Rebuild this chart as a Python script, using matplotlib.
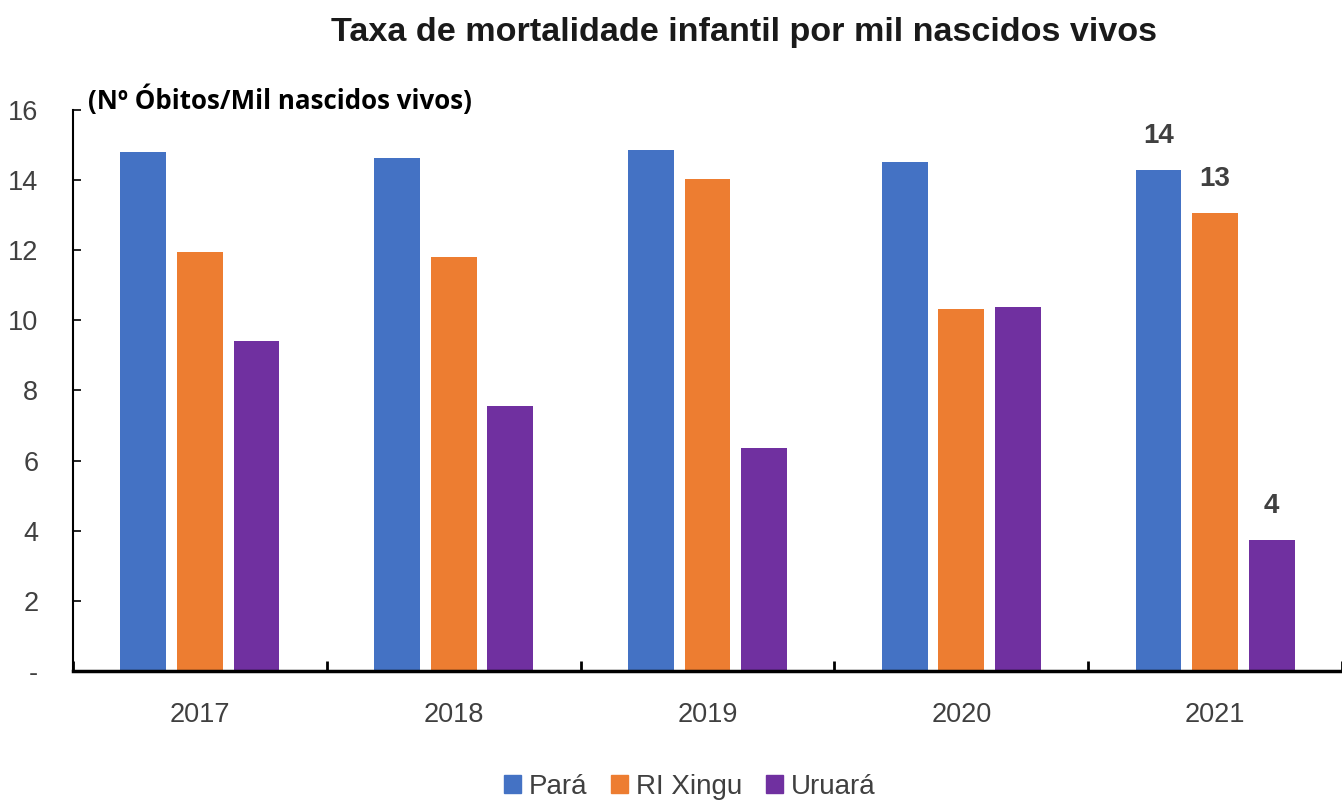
import matplotlib
matplotlib.use("Agg")
import matplotlib.pyplot as plt
from matplotlib.patches import Patch
import numpy as np

years = ["2017", "2018", "2019", "2020", "2021"]
series_names = ["Pará", "RI Xingu", "Uruará"]
para = [14.80, 14.63, 14.86, 14.52, 14.29]
ri_xingu = [11.95, 11.81, 14.03, 10.33, 13.06]
uruara = [9.41, 7.56, 6.36, 10.38, 3.74]
ytick_values = [0, 2, 4, 6, 8, 10, 12, 14, 16]
ytick_labels = ["-", "2", "4", "6", "8", "10", "12", "14", "16"]
label_2021 = ["14", "13", "4"]

colors = ["#4472C4", "#ED7D31", "#7030A0"]
narrow = ["Liberation Sans", "DejaVu Sans"]
tick_color = "#404040"

fig = plt.figure(figsize=(13.42, 8.01), dpi=100)
ax = fig.add_axes([73/1342, 130/801, 1 - 73/1342, 561/801])

x = np.arange(len(years))
w = 0.18
offs = [-0.223, 0.0, 0.223]
for vals, off, c, name in zip([para, ri_xingu, uruara], offs, colors, series_names):
    ax.bar(x + off, vals, width=w, color=c, label=name)

# value labels for 2021
for vals, off, lab in zip([para, ri_xingu, uruara], offs, label_2021):
    ax.annotate(lab, (x[-1] + off, vals[-1]), xytext=(0, 15), textcoords="offset points",
                ha="center", va="bottom", fontsize=20, fontweight="bold",
                color="#404040", family=narrow)

ax.set_xlim(-0.5, 4.39)
ax.set_ylim(0, 16)

ax.set_yticks(ytick_values)
ax.set_yticklabels(ytick_labels, family=narrow, fontsize=19.5, color=tick_color)
ax.set_xticks(x)
ax.set_xticklabels(years, family=narrow, fontsize=19.5, color=tick_color)
ax.tick_params(axis="x", which="major", length=0, pad=22)
ax.set_xticks(np.arange(len(years) + 1) - 0.5, minor=True)
ax.tick_params(axis="x", which="minor", direction="in", length=7, width=2, color="black")
ax.tick_params(axis="y", direction="in", length=6, width=1.2, color="black", pad=25)

for s in ["top", "right"]:
    ax.spines[s].set_visible(False)
ax.spines["left"].set_linewidth(1.5)
ax.spines["bottom"].set_linewidth(2.5)

fig.text(744/1342, 1 - 33/801, "Taxa de mortalidade infantil por mil nascidos vivos",
         ha="center", va="center", fontsize=24.6, fontweight="bold",
         family=["Liberation Sans", "DejaVu Sans"], color="#1a1a1a")
fig.text(88/1342, 1 - 100/801, "(Nº Óbitos/Mil nascidos vivos)", ha="left", va="center",
         fontsize=18.6, fontweight="bold", family=["Open Sans", "DejaVu Sans"], color="black")

handles = [Patch(color=c) for c in colors]
fig.legend(handles, series_names, loc="center", bbox_to_anchor=(690/1342, 1 - 787/801),
           ncol=3, frameon=False, handlelength=0.6, handleheight=0.6,
           handletextpad=0.3, columnspacing=0.85,
           prop={"family": narrow, "size": 20})
for t in fig.legends[0].get_texts():
    t.set_color(tick_color)

fig.savefig("out.png", dpi=100)
